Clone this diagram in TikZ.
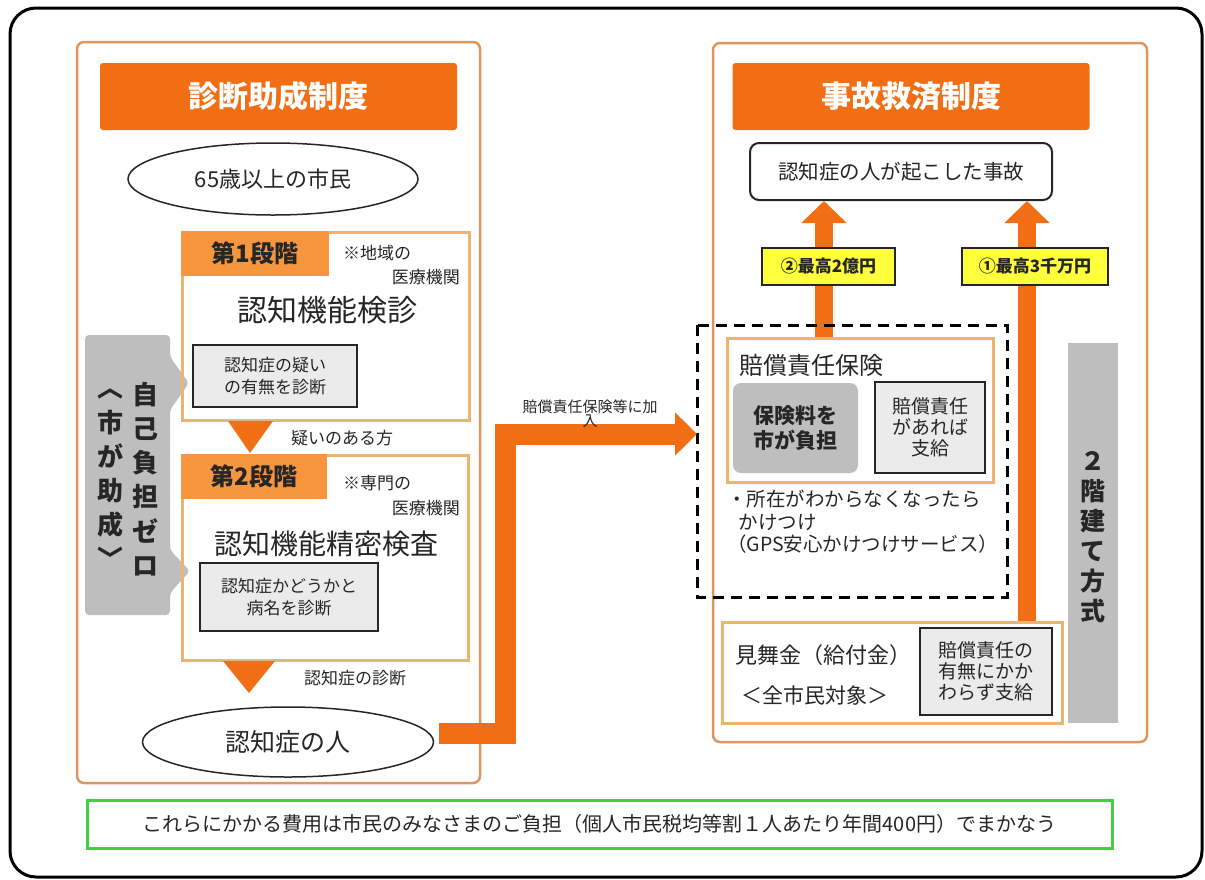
\documentclass[tikz,border=0pt]{standalone}
\usepackage{fontspec}
\setmainfont{Noto Sans CJK JP}
\usetikzlibrary{shapes.geometric,arrows.meta,positioning}

\definecolor{mainorange}{RGB}{242,110,20}
\definecolor{headorange}{RGB}{247,150,62}
\definecolor{panelline}{RGB}{222,150,95}
\definecolor{tanline}{RGB}{235,180,115}
\definecolor{midgray}{RGB}{190,190,190}
\definecolor{lightgray}{RGB}{235,235,235}
\definecolor{tagyellow}{RGB}{255,255,60}
\definecolor{framegreen}{RGB}{70,205,70}
\definecolor{ink}{RGB}{38,38,38}

\newcommand{\fs}[1]{\fontsize{#1}{1.2\dimexpr#1pt\relax}\selectfont}

\tikzset{
  panel/.style={draw=panelline, line width=2.5pt, rounded corners=7pt},
  titlebar/.style={fill=mainorange, rounded corners=3pt, text=white,
    font=\bfseries\fs{30}, minimum width=357pt, minimum height=67pt, inner sep=0pt},
  oval/.style={ellipse, draw=ink, line width=1.5pt, text=ink, inner sep=0pt},
  stagebox/.style={draw=tanline, line width=3pt, inner sep=0pt},
  stagehead/.style={fill=headorange, text=ink, font=\bfseries\fs{24},
    minimum height=45pt, inner sep=0pt},
  note/.style={text=ink, font=\fs{17}, inner sep=0pt},
  graybox/.style={draw=ink, line width=1.5pt, fill=lightgray, text=ink,
    align=center, inner sep=0pt},
  tag/.style={draw=ink, line width=1.5pt, fill=tagyellow, text=ink,
    font=\bfseries\fs{17}, minimum height=37pt, inner sep=0pt},
  vert/.style={align=center, text=ink, font=\bfseries\fs{26}, inner sep=0pt},
  bigarrow/.style={draw=mainorange, line width=21pt,
    -{Triangle[width=42pt,length=22pt]}},
  uparrow/.style={draw=mainorange, line width=18pt,
    -{Triangle[width=44pt,length=22pt]}},
  downtri/.style={fill=mainorange}
}

\begin{document}
\begin{tikzpicture}[x=1pt,y=-1pt]
  \useasboundingbox (0,0) rectangle (1205,879);
  \fill[white] (0,0) rectangle (1205,879);
  \draw[line width=3pt, rounded corners=26pt] (10,8) rectangle (1202,877);

  % left panel
  \draw[panel] (77,42) rectangle (480,783);
  \node[titlebar] (diagtitle) at (278.5,96.5) {診断助成制度};
  \node[oval, minimum width=290pt, minimum height=72pt, font=\fs{22}]
    (elder) at (273,179) {65歳以上の市民};

  \fill[midgray, rounded corners=4pt] (85,335) -- (170,335) -- (170,357)
    -- (189,383) -- (170,410) -- (170,550) -- (190,571) -- (170,593)
    -- (170,615) -- (85,615) -- cycle;
  \node[vert] (free) at (145,479) {自\\[3pt]己\\[3pt]負\\[3pt]担\\[3pt]ゼ\\[3pt]ロ};
  \node[vert] (aid) at (110,479) {︿\\[3pt]市\\[3pt]が\\[3pt]助\\[3pt]成\\[3pt]﹀};

  \node[stagebox, minimum width=287pt, minimum height=188pt] (stage1) at (325.5,326) {};
  \node[stagehead, minimum width=148pt, anchor=north west] (head1)
    at (stage1.north west) {第1段階};
  \node[note, anchor=west] (area1) at (343,253) {※地域の};
  \node[note, anchor=east] (inst1) at (460,277) {医療機関};
  \node[text=ink, font=\fs{30}, inner sep=0pt] (check1) at (327,310) {認知機能検診};
  \node[graybox, minimum width=164pt, minimum height=62pt, font=\fs{17}]
    (doubt) at (275,376) {認知症の疑い\\[1pt]の有無を診断};

  \fill[downtri] (228,421) -- (273,421) -- (250,453) -- cycle;
  \node[note] (suspect) at (342,438) {疑いのある方};

  \node[stagebox, minimum width=286pt, minimum height=205pt] (stage2) at (325,557.5) {};
  \node[stagehead, minimum width=146pt, anchor=north west] (head2)
    at (stage2.north west) {第2段階};
  \node[note, anchor=west] (area2) at (343,483) {※専門の};
  \node[note, anchor=east] (inst2) at (460,508) {医療機関};
  \node[text=ink, font=\fs{28}, inner sep=0pt] (check2) at (326,544) {認知機能精密検査};
  \node[graybox, minimum width=178pt, minimum height=68pt, font=\fs{17}]
    (disease) at (289,597) {認知症かどうかと\\[1pt]病名を診断};

  \fill[downtri] (223,661) -- (275,661) -- (249,693) -- cycle;
  \node[note] (diag) at (355,678) {認知症の診断};

  \node[oval, minimum width=291pt, minimum height=70pt, font=\fs{25}]
    (patient) at (288,742) {認知症の人};

  % right panel
  \draw[panel] (713,43) rectangle (1147,742);
  \node[titlebar] (reliefttl) at (911,96.5) {事故救済制度};
  \node[draw=ink, line width=2pt, rounded corners=9pt, minimum width=302pt,
    minimum height=57pt, text=ink, font=\fs{20.5}, inner sep=0pt]
    (accident) at (901,171.5) {認知症の人が起こした事故};

  \node[stagebox, minimum width=266pt, minimum height=144pt] (insure) at (860,410) {};
  \node[stagebox, minimum width=340pt, minimum height=101pt] (mimai) at (892,672.5) {};

  \coordinate (colA) at (824,0);
  \coordinate (colB) at (1027,0);
  \draw[uparrow] (insure.north -| colA) -- (accident.south -| colA);
  \draw[uparrow] (mimai.north -| colB) -- (accident.south -| colB);
  \node[tag, minimum width=133pt] (max2) at (828.5,266.5) {②最高2億円};
  \node[tag, minimum width=146pt] (max1) at (1035,266.5) {①最高3千万円};

  \node[text=ink, font=\fs{24}, inner sep=0pt, anchor=west] (insttl) at (739,365) {賠償責任保険};
  \node[fill=midgray, rounded corners=8pt, minimum width=125pt, minimum height=90pt,
    align=center, text=ink, font=\bfseries\fs{21}, inner sep=0pt]
    (premium) at (795.5,428) {保険料を\\[-1pt]市が負担};
  \node[graybox, minimum width=110pt, minimum height=91pt, font=\fs{19}]
    (payout) at (930,427.5) {賠償責任\\[-2pt]があれば\\[-2pt]支給};
  \node[text=ink, font=\fs{19.5}, inner sep=0pt, anchor=north west, align=left]
    (gps) at (727,490) {・所在がわからなくなったら\\[-1pt]\hspace{0.6em}かけつけ\\[-1pt]（GPS安心かけつけサービス）};

  \draw[line width=3pt, dash pattern=on 11pt off 7pt] (697,325) rectangle (1007,597);
  \node (dashbox) at (852,461) [minimum width=310pt, minimum height=272pt] {};

  \node[text=ink, font=\fs{22}, inner sep=0pt, anchor=west] (mimaittl) at (735,655) {見舞金（給付金）};
  \node[text=ink, font=\fs{21}, inner sep=0pt, anchor=west] (allcit) at (741,695) {＜全市民対象＞};
  \node[graybox, minimum width=132pt, minimum height=87pt, font=\fs{19}]
    (always) at (986,671.5) {賠償責任の\\[-2pt]有無にかか\\[-2pt]わらず支給};

  \node[fill=midgray, minimum width=50pt, minimum height=380pt, inner sep=0pt]
    (twostory) at (1093,533) {};
  \node[vert, font=\bfseries\fs{25}] (twostorytxt) at (1093,537)
    {２\\[0pt]階\\[0pt]建\\[0pt]て\\[0pt]方\\[0pt]式};

  % joining arrow
  \coordinate (turn) at (505,733);
  \coordinate (entry) at (697,434);
  \draw[bigarrow] (patient.east |- turn) ++(5,0) -- (turn) |- (entry);
  \node[text=ink, font=\fs{15}, align=center, inner sep=0pt] (joinlbl)
    at (590,414) {賠償責任保険等に加\\[-4pt]入};

  % footer
  \node[draw=framegreen, line width=3pt, minimum width=1025pt, minimum height=48pt,
    text=ink, font=\fs{20}, inner sep=0pt] (cost) at (599.5,824)
    {これらにかかる費用は市民のみなさまのご負担（個人市民税均等割１人あたり年間400円）でまかなう};
\end{tikzpicture}
\end{document}
